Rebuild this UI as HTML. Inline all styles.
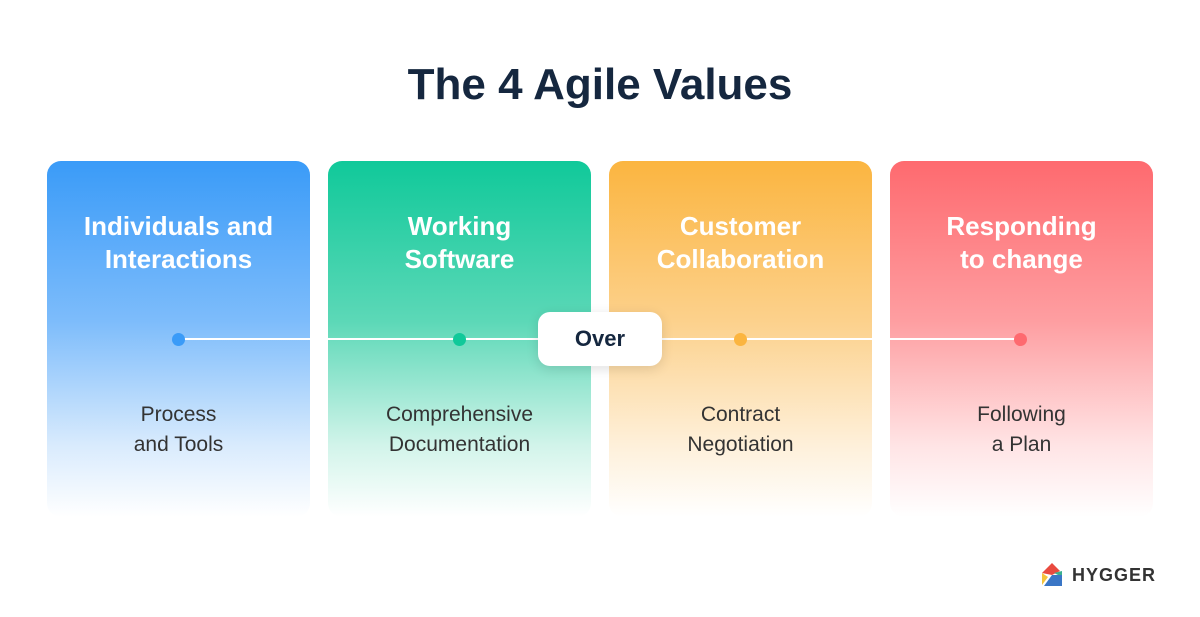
<!DOCTYPE html>
<html><head><style>
body{margin:0;width:1200px;height:617px;background:#fff;position:relative;font-family:"Liberation Sans",sans-serif;overflow:hidden}
.t{position:absolute;top:60px;left:0;width:1200px;text-align:center;font-size:44px;font-weight:bold;color:#15273f}
.c{position:absolute;top:161px;width:263px;height:356px;border-radius:14px}
.h{position:absolute;top:49px;width:100%;text-align:center;color:#fff;font-weight:bold;font-size:26px;line-height:33px}
.s{position:absolute;top:239px;width:100%;text-align:center;color:#333;font-size:21px;line-height:30px}
.d{position:absolute;top:333px;width:13px;height:13px;border-radius:50%}
.line{position:absolute;left:178px;top:338px;width:842px;height:2px;background:#fff}
.over{position:absolute;left:538px;top:312px;width:124px;height:54px;background:#fff;border-radius:12px;box-shadow:0 3px 12px rgba(0,0,0,.12);text-align:center;line-height:54px;font-weight:bold;font-size:22px;color:#15273f}
</style></head><body>
<div class="t">The 4 Agile Values</div>
<div class="c" style="left:47px;background:linear-gradient(#3a9bf8,#7dbcfb 45%,#d9ebfd 80%,#fff)"><div class="h">Individuals and<br>Interactions</div><div class="s">Process<br>and Tools</div></div>
<div class="c" style="left:328px;background:linear-gradient(#10c99a,#5cd8b7 45%,#d2f4ea 80%,#fff)"><div class="h">Working<br>Software</div><div class="s">Comprehensive<br>Documentation</div></div>
<div class="c" style="left:609px;background:linear-gradient(#fbb540,#fcd18c 45%,#fef0da 80%,#fff)"><div class="h">Customer<br>Collaboration</div><div class="s">Contract<br>Negotiation</div></div>
<div class="c" style="left:890px;background:linear-gradient(#fe6a6f,#fe9ea1 45%,#ffe4e5 80%,#fff)"><div class="h">Responding<br>to change</div><div class="s">Following<br>a Plan</div></div>
<div class="line"></div>
<div class="d" style="left:172px;background:#3a9bf8"></div>
<div class="d" style="left:453px;background:#10c99a"></div>
<div class="d" style="left:734px;background:#fbb540"></div>
<div class="d" style="left:1014px;background:#fe6a6f"></div>
<div class="over">Over</div>
<svg style="position:absolute;left:1040px;top:561px" width="24" height="26" viewBox="0 0 24 26">
<polygon points="12,2 2,12 12,14" fill="#e94a3f"/><polygon points="12,2 20,10 12,14" fill="#e94a3f"/>
<polygon points="14,12 22,10 22,16" fill="#3bb08f"/><polygon points="2,12 8,16 2,24" fill="#f5c33b"/>
<polygon points="4,25 22,25 22,14 12,14" fill="#3a76c6"/></svg>
<div style="position:absolute;left:1072px;top:565px;font-weight:bold;font-size:18px;color:#333;letter-spacing:1px">HYGGER</div>
</body></html>
